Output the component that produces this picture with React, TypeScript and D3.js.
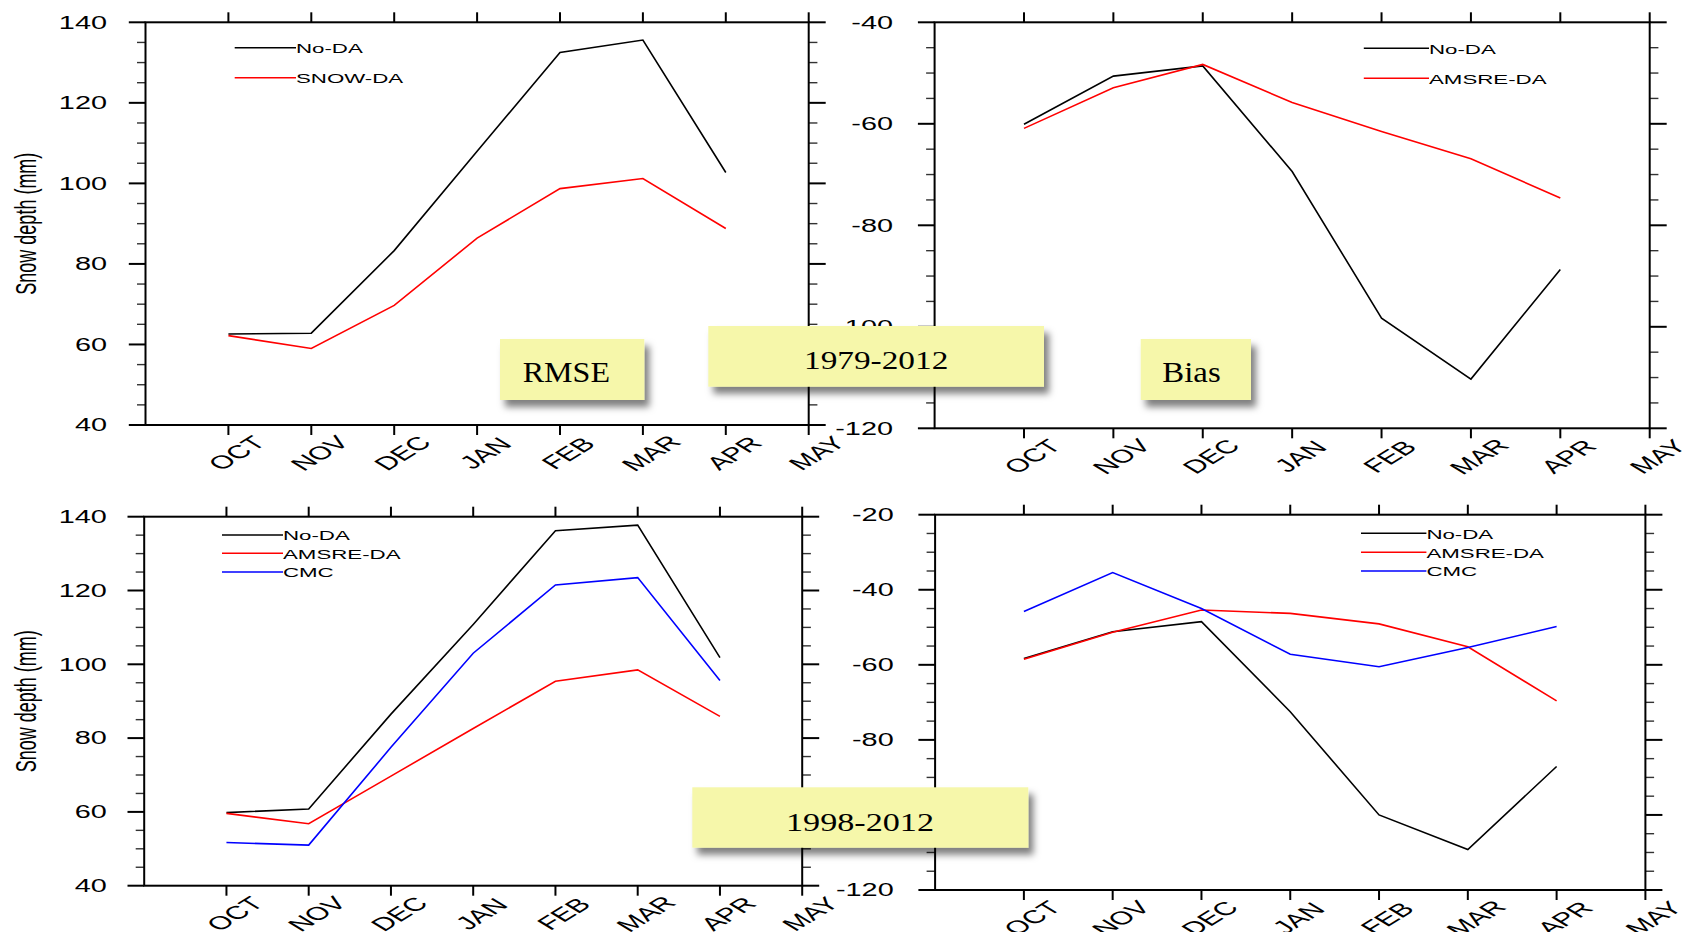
import React from 'react';
import * as d3 from 'd3';

// ---- data ----
const months = ['OCT', 'NOV', 'DEC', 'JAN', 'FEB', 'MAR', 'APR', 'MAY'];

const rmse7912NoDA = [62.6, 62.8, 83.3, 108.0, 132.5, 135.6, 102.7];
const rmse7912SnowDA = [62.2, 59.0, 69.7, 86.4, 98.7, 101.2, 88.8];

const bias7912NoDA = [-60.1, -50.6, -48.6, -69.4, -98.3, -110.3, -88.7];
const bias7912AmsreDA = [-60.9, -52.9, -48.3, -55.8, -61.5, -66.9, -74.6];

const rmse9812NoDA = [59.8, 60.8, 86.5, 110.8, 136.2, 137.7, 101.8];
const rmse9812AmsreDA = [59.6, 56.8, 69.7, 82.6, 95.4, 98.5, 85.9];
const rmse9812CMC = [51.7, 51.0, 77.5, 103.0, 121.5, 123.5, 95.6];

const bias9812NoDA = [-58.3, -51.2, -48.5, -72.5, -100.0, -109.2, -87.1];
const bias9812AmsreDA = [-58.5, -51.3, -45.4, -46.3, -49.1, -55.2, -69.6];
const bias9812CMC = [-45.8, -35.4, -45.0, -57.2, -60.5, -55.4, -49.8];

const yTitle = 'Snow depth (mm)';
const boxLabels = ['RMSE', 'Bias', '1979-2012', '1998-2012'];

// ---- layout ----
const S = 1.65; // horizontal stretch of the original figure
const FONT = '"Liberation Sans", Arial, Helvetica, sans-serif';
const SERIF = '"Liberation Serif", "Times New Roman", serif';

type Series = { name: string; color: string; values: number[] };
type PanelDef = {
  left: number; right: number; top: number; bottom: number;
  yDomain: [number, number];
  series: Series[];
  legX1: number; legX2: number; legYs: number[];
  labelEnd: number;
  title: boolean;
};

const panels: PanelDef[] = [
  {
    left: 145.5, right: 808.7, top: 22.3, bottom: 425, yDomain: [40, 140],
    series: [
      { name: 'No-DA', color: '#000000', values: rmse7912NoDA },
      { name: 'SNOW-DA', color: '#ff0000', values: rmse7912SnowDA },
    ],
    legX1: 234.7, legX2: 296, legYs: [47.7, 77.7], labelEnd: 107, title: true,
  },
  {
    left: 934.6, right: 1649.7, top: 22.3, bottom: 428.3, yDomain: [-120, -40],
    series: [
      { name: 'No-DA', color: '#000000', values: bias7912NoDA },
      { name: 'AMSRE-DA', color: '#ff0000', values: bias7912AmsreDA },
    ],
    legX1: 1363.8, legX2: 1429, legYs: [48.3, 78.3], labelEnd: 893, title: false,
  },
  {
    left: 144.2, right: 802.2, top: 516.7, bottom: 885.7, yDomain: [40, 140],
    series: [
      { name: 'No-DA', color: '#000000', values: rmse9812NoDA },
      { name: 'AMSRE-DA', color: '#ff0000', values: rmse9812AmsreDA },
      { name: 'CMC', color: '#0000ff', values: rmse9812CMC },
    ],
    legX1: 222, legX2: 283, legYs: [535, 553.3, 572], labelEnd: 106.8, title: true,
  },
  {
    left: 935.1, right: 1645.4, top: 514.7, bottom: 890, yDomain: [-120, -20],
    series: [
      { name: 'No-DA', color: '#000000', values: bias9812NoDA },
      { name: 'AMSRE-DA', color: '#ff0000', values: bias9812AmsreDA },
      { name: 'CMC', color: '#0000ff', values: bias9812CMC },
    ],
    legX1: 1361, legX2: 1426.4, legYs: [533.3, 552.3, 571], labelEnd: 893.7, title: false,
  },
];

function SText(props: {
  x: number; y: number; text: string; size: number; anchor?: string; rotate?: number; baseline?: string;
}) {
  const { x, y, text, size, anchor = 'start', rotate = 0, baseline = 'central' } = props;
  return (
    <g transform={`translate(${x},${y}) scale(${S},1) rotate(${rotate})`}>
      <text
        x={0}
        y={0}
        fontFamily={FONT}
        fontSize={size}
        textAnchor={anchor as any}
        dominantBaseline={baseline as any}
        fill="#000"
      >
        {text}
      </text>
    </g>
  );
}

function Panel({ p }: { p: PanelDef }) {
  const x = d3.scaleLinear().domain([0, 8]).range([p.left, p.right]);
  const y = d3.scaleLinear().domain(p.yDomain).range([p.bottom, p.top]);
  const [y0, y1] = p.yDomain;
  const majors = d3.range(y0, y1 + 0.01, 20);
  const minors = d3.range(y0, y1 + 0.01, 5).filter((v) => (v - y0) % 20 !== 0);
  const line = d3
    .line<number>()
    .x((_, i) => x(i + 1))
    .y((d) => y(d));
  const monthIdx = months.map((_, i) => i + 1);

  return (
    <g>
      {/* minor y ticks */}
      {minors.map((v) => (
        <g key={'mn' + v} stroke="#333" strokeWidth={1.4}>
          <line x1={p.left - 8.5} x2={p.left} y1={y(v)} y2={y(v)} />
          <line x1={p.right} x2={p.right + 8.7} y1={y(v)} y2={y(v)} />
        </g>
      ))}
      {/* major y ticks */}
      {majors.map((v) => (
        <g key={'mj' + v} stroke="#000" strokeWidth={2}>
          <line x1={p.left - 16.7} x2={p.left} y1={y(v)} y2={y(v)} />
          <line x1={p.right} x2={p.right + 17} y1={y(v)} y2={y(v)} />
        </g>
      ))}
      {/* x ticks */}
      {monthIdx.map((i) => (
        <g key={'xt' + i} stroke="#000" strokeWidth={2}>
          <line x1={x(i)} x2={x(i)} y1={p.top - 10} y2={p.top} />
          <line x1={x(i)} x2={x(i)} y1={p.bottom} y2={p.bottom + 10} />
        </g>
      ))}
      {/* frame */}
      <rect
        x={p.left}
        y={p.top}
        width={p.right - p.left}
        height={p.bottom - p.top}
        fill="none"
        stroke="#000"
        strokeWidth={2}
      />
      {/* y labels */}
      {majors.map((v) => (
        <SText key={'yl' + v} x={p.labelEnd} y={y(v)} text={String(v)} size={17.5} anchor="end" />
      ))}
      {/* x labels */}
      {months.map((m, i) => (
        <SText key={'xl' + m} x={x(i + 1) + 8} y={p.bottom + 28} text={m} size={18.5} anchor="middle" rotate={-45} />
      ))}
      {/* y title */}
      {p.title && (
        <SText x={25.8} y={(p.top + p.bottom) / 2} text={yTitle} size={18} anchor="middle" rotate={-90} />
      )}
      {/* data lines */}
      {p.series.map((s) => (
        <path key={'ln' + s.name} d={line(s.values) || ''} fill="none" stroke={s.color} strokeWidth={1.6} />
      ))}
      {/* legend */}
      {p.series.map((s, k) => (
        <g key={'lg' + s.name}>
          <line x1={p.legX1} x2={p.legX2} y1={p.legYs[k]} y2={p.legYs[k]} stroke={s.color} strokeWidth={1.6} />
          <SText x={p.legX2} y={p.legYs[k] + 0.5} text={s.name} size={13.5} />
        </g>
      ))}
    </g>
  );
}

type BoxDef = { x0: number; y0: number; x1: number; y1: number; tx: number; ty: number; tl: number; fs: number; label: string };

const boxes: BoxDef[] = [
  { x0: 500, y0: 339, x1: 644.3, y1: 400, tx: 522.7, ty: 381.7, tl: 87.3, fs: 30, label: boxLabels[0] },
  { x0: 1140.7, y0: 339, x1: 1251, y1: 400, tx: 1162.3, ty: 381.7, tl: 58.4, fs: 29, label: boxLabels[1] },
  { x0: 708.3, y0: 326, x1: 1044, y1: 386.7, tx: 804, ty: 369.3, tl: 144.3, fs: 26, label: boxLabels[2] },
  { x0: 692.3, y0: 787.3, x1: 1028.3, y1: 847.7, tx: 786, ty: 830.7, tl: 148, fs: 26, label: boxLabels[3] },
];

export default function App() {
  return (
    <svg
      width={1684}
      height={932}
      style={{ position: 'absolute', left: 0, top: 0, background: '#ffffff' }}
    >
      <defs>
        <filter id="shadow" x="-10%" y="-20%" width="130%" height="160%">
          <feDropShadow dx="5" dy="7" stdDeviation="3.5" floodColor="#000" floodOpacity="0.5" />
        </filter>
      </defs>
      <rect x={0} y={0} width={1684} height={932} fill="#fff" />
      {panels.map((p, i) => (
        <Panel key={i} p={p} />
      ))}
      {boxes.map((b) => (
        <g key={b.label}>
          <rect
            x={b.x0}
            y={b.y0}
            width={b.x1 - b.x0}
            height={b.y1 - b.y0}
            fill="#f6f7aa"
            filter="url(#shadow)"
          />
          <text
            x={b.tx}
            y={b.ty}
            fontFamily={SERIF}
            fontSize={b.fs}
            textLength={b.tl}
            lengthAdjust="spacingAndGlyphs"
            fill="#000"
          >
            {b.label}
          </text>
        </g>
      ))}
    </svg>
  );
}
